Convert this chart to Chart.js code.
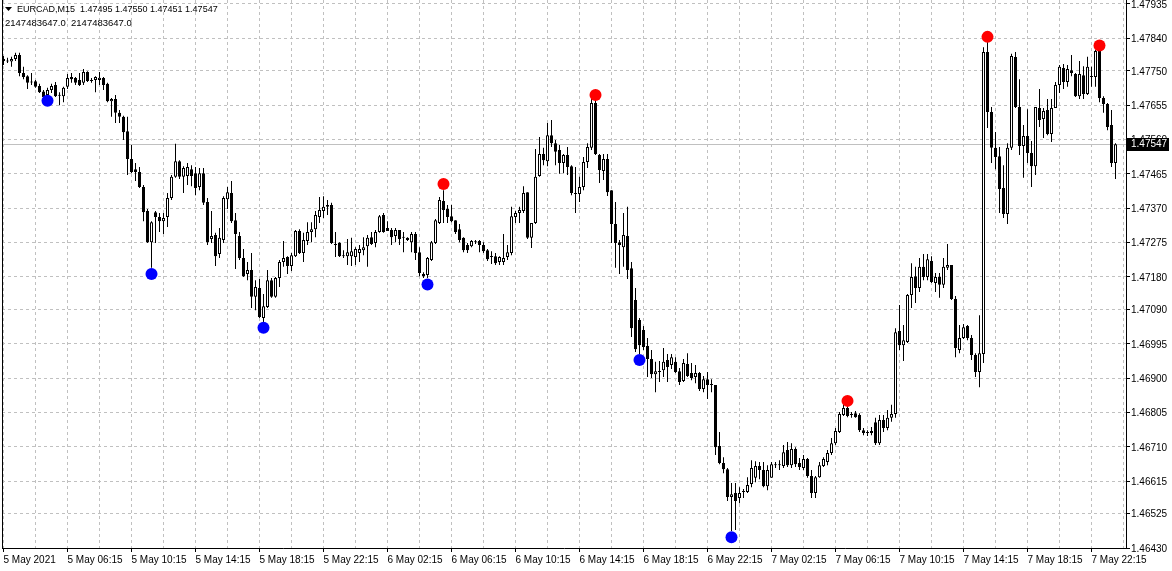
<!DOCTYPE html>
<html>
<head>
<meta charset="utf-8">
<script src="https://cdn.jsdelivr.net/npm/chart.js@4.4.1/dist/chart.umd.min.js"></script>
<style>
  html, body { margin: 0; padding: 0; background: #fff; }
  canvas { display: block; }
</style>
</head>
<body>
<canvas id="myChart" width="1172" height="571"></canvas>
<script>
// EURCAD M15 candles, one entry per bar (bar 0 = 5 May 02:15)
var opens = [
1.47783,1.47777,1.47776,1.47783,1.47794,1.47744,1.47735,1.47719,1.47721,1.47708,1.47693,1.47683,1.47697,1.47711,1.47681,1.47680,
1.47706,1.47733,1.47730,1.47725,1.47717,1.47747,1.47722,1.47725,1.47725,1.47730,1.47714,1.47666,1.47672,1.47634,1.47623,1.47583,
1.47506,1.47478,1.47470,1.47429,1.47362,1.47276,1.47359,1.47346,1.47334,1.47346,1.47398,1.47457,1.47500,1.47457,1.47459,1.47478,
1.47467,1.47429,1.47467,1.47387,1.47285,1.47296,1.47243,1.47282,1.47395,1.47412,1.47337,1.47293,1.47232,1.47188,1.47199,1.47125,
1.47149,1.47066,1.47097,1.47171,1.47125,1.47177,1.47221,1.47235,1.47210,1.47237,1.47307,1.47246,1.47279,1.47304,1.47312,1.47346,
1.47362,1.47374,1.47379,1.47271,1.47274,1.47237,1.47237,1.47237,1.47235,1.47246,1.47254,1.47265,1.47290,1.47274,1.47304,1.47351,
1.47315,1.47310,1.47293,1.47310,1.47290,1.47288,1.47276,1.47299,1.47248,1.47188,1.47185,1.47227,1.47274,1.47329,1.47390,1.47368,
1.47348,1.47337,1.47312,1.47288,1.47268,1.47265,1.47276,1.47279,1.47268,1.47254,1.47237,1.47237,1.47221,1.47221,1.47235,1.47246,
1.47346,1.47357,1.47362,1.47414,1.47288,1.47329,1.47459,1.47520,1.47500,1.47572,1.47550,1.47531,1.47495,1.47517,1.47486,1.47409,
1.47409,1.47429,1.47498,1.47537,1.47661,1.47517,1.47473,1.47506,1.47420,1.47326,1.47276,1.47262,1.47293,1.47204,1.47116,1.47061,
1.47033,1.46989,1.46953,1.46911,1.46917,1.46922,1.46950,1.46936,1.46945,1.46919,1.46892,1.46939,1.46914,1.46903,1.46914,1.46870,
1.46897,1.46881,1.46881,1.46712,1.46665,1.46648,1.46571,1.46582,1.46568,1.46585,1.46585,1.46607,1.46624,1.46657,1.46646,1.46601,
1.46624,1.46659,1.46659,1.46657,1.46701,1.46659,1.46704,1.46665,1.46651,1.46676,1.46629,1.46582,1.46626,1.46657,1.46668,1.46693,
1.46720,1.46751,1.46798,1.46817,1.46798,1.46803,1.46798,1.46756,1.46748,1.46748,1.46778,1.46720,1.46784,1.46762,1.46790,1.46801,
1.47030,1.46991,1.47000,1.47130,1.47182,1.47149,1.47208,1.47180,1.47224,1.47163,1.47180,1.47158,1.47205,1.47213,1.47119,1.46978,
1.47011,1.47044,1.47011,1.46964,1.46917,1.46967,1.47802,1.47636,1.47537,1.47514,1.47426,1.47354,1.47537,1.47788,1.47650,1.47542,
1.47570,1.47523,1.47486,1.47647,1.47617,1.47642,1.47575,1.47647,1.47711,1.47758,1.47719,1.47752,1.47741,1.47680,1.47738,1.47686,
1.47733,1.47733,1.47805,1.47675,1.47658,1.47600,1.47495];
var highs = [
1.47791,1.47786,1.47789,1.47800,1.47800,1.47761,1.47738,1.47744,1.47725,1.47714,1.47697,1.47703,1.47714,1.47719,1.47691,1.47706,
1.47741,1.47744,1.47733,1.47744,1.47755,1.47749,1.47730,1.47735,1.47747,1.47733,1.47717,1.47675,1.47683,1.47642,1.47626,1.47623,
1.47545,1.47495,1.47484,1.47434,1.47368,1.47334,1.47362,1.47357,1.47357,1.47412,1.47462,1.47548,1.47503,1.47486,1.47495,1.47489,
1.47484,1.47481,1.47481,1.47398,1.47362,1.47302,1.47315,1.47403,1.47429,1.47445,1.47357,1.47304,1.47257,1.47221,1.47246,1.47171,
1.47174,1.47133,1.47199,1.47177,1.47180,1.47227,1.47279,1.47237,1.47246,1.47310,1.47312,1.47302,1.47331,1.47331,1.47362,1.47401,
1.47403,1.47393,1.47385,1.47304,1.47276,1.47254,1.47285,1.47288,1.47262,1.47268,1.47290,1.47296,1.47304,1.47310,1.47351,1.47357,
1.47334,1.47315,1.47315,1.47310,1.47304,1.47290,1.47304,1.47304,1.47262,1.47193,1.47235,1.47279,1.47340,1.47401,1.47420,1.47379,
1.47379,1.47337,1.47326,1.47290,1.47274,1.47282,1.47282,1.47282,1.47276,1.47257,1.47251,1.47246,1.47237,1.47299,1.47268,1.47374,
1.47362,1.47374,1.47431,1.47414,1.47329,1.47534,1.47567,1.47537,1.47606,1.47614,1.47559,1.47545,1.47520,1.47539,1.47489,1.47484,
1.47457,1.47512,1.47550,1.47675,1.47669,1.47520,1.47520,1.47520,1.47420,1.47387,1.47282,1.47357,1.47374,1.47221,1.47149,1.47066,
1.47044,1.47011,1.46978,1.46945,1.46947,1.46983,1.46967,1.46967,1.46958,1.46928,1.46953,1.46969,1.46942,1.46936,1.46917,1.46906,
1.46917,1.46897,1.46881,1.46751,1.46681,1.46651,1.46610,1.46610,1.46598,1.46593,1.46626,1.46673,1.46670,1.46668,1.46668,1.46659,
1.46668,1.46668,1.46673,1.46715,1.46723,1.46720,1.46709,1.46679,1.46687,1.46679,1.46646,1.46629,1.46668,1.46681,1.46701,1.46734,
1.46762,1.46806,1.46828,1.46823,1.46806,1.46809,1.46803,1.46762,1.46756,1.46765,1.46790,1.46798,1.46798,1.46812,1.46826,1.47038,
1.47102,1.47047,1.47133,1.47218,1.47208,1.47232,1.47243,1.47243,1.47237,1.47191,1.47191,1.47232,1.47271,1.47213,1.47127,1.47047,
1.47050,1.47047,1.47019,1.46969,1.47074,1.47815,1.47830,1.47650,1.47581,1.47539,1.47489,1.47550,1.47797,1.47802,1.47727,1.47600,
1.47644,1.47556,1.47650,1.47700,1.47647,1.47672,1.47672,1.47719,1.47766,1.47769,1.47766,1.47794,1.47744,1.47777,1.47763,1.47789,
1.47761,1.47808,1.47808,1.47680,1.47661,1.47642,1.47550];
var lows = [
1.47766,1.47772,1.47761,1.47777,1.47735,1.47727,1.47700,1.47711,1.47703,1.47689,1.47675,1.47680,1.47689,1.47678,1.47655,1.47663,
1.47700,1.47717,1.47711,1.47708,1.47711,1.47719,1.47717,1.47691,1.47711,1.47697,1.47663,1.47623,1.47606,1.47606,1.47559,1.47462,
1.47467,1.47445,1.47426,1.47334,1.47274,1.47205,1.47274,1.47304,1.47299,1.47318,1.47393,1.47454,1.47451,1.47412,1.47434,1.47431,
1.47406,1.47420,1.47379,1.47268,1.47274,1.47210,1.47232,1.47274,1.47368,1.47329,1.47202,1.47227,1.47180,1.47171,1.47094,1.47088,
1.47066,1.47055,1.47094,1.47122,1.47122,1.47152,1.47208,1.47188,1.47196,1.47235,1.47243,1.47221,1.47268,1.47276,1.47290,1.47329,
1.47343,1.47351,1.47271,1.47235,1.47235,1.47232,1.47213,1.47210,1.47213,1.47221,1.47240,1.47208,1.47268,1.47262,1.47302,1.47302,
1.47307,1.47268,1.47276,1.47268,1.47248,1.47279,1.47248,1.47227,1.47182,1.47177,1.47177,1.47224,1.47271,1.47326,1.47329,1.47329,
1.47331,1.47299,1.47276,1.47248,1.47246,1.47262,1.47271,1.47248,1.47246,1.47224,1.47216,1.47213,1.47213,1.47213,1.47227,1.47240,
1.47329,1.47329,1.47357,1.47285,1.47260,1.47326,1.47457,1.47489,1.47486,1.47539,1.47489,1.47465,1.47467,1.47462,1.47406,1.47357,
1.47387,1.47420,1.47481,1.47531,1.47517,1.47440,1.47448,1.47404,1.47274,1.47205,1.47188,1.47208,1.47174,1.47014,1.46972,1.46966,
1.46978,1.46903,1.46900,1.46861,1.46889,1.46903,1.46889,1.46925,1.46914,1.46881,1.46889,1.46903,1.46894,1.46886,1.46864,1.46861,
1.46842,1.46861,1.46687,1.46662,1.46637,1.46560,1.46477,1.46480,1.46554,1.46568,1.46582,1.46598,1.46612,1.46620,1.46598,1.46590,
1.46624,1.46651,1.46646,1.46651,1.46654,1.46651,1.46654,1.46646,1.46646,1.46624,1.46568,1.46568,1.46624,1.46654,1.46659,1.46687,
1.46715,1.46748,1.46795,1.46792,1.46790,1.46790,1.46751,1.46742,1.46740,1.46742,1.46715,1.46715,1.46751,1.46756,1.46779,1.46790,
1.46978,1.46947,1.46997,1.47094,1.47108,1.47138,1.47171,1.47171,1.47163,1.47138,1.47122,1.47149,1.47199,1.47116,1.46958,1.46969,
1.47008,1.47005,1.46950,1.46903,1.46875,1.46942,1.47592,1.47495,1.47478,1.47357,1.47343,1.47326,1.47531,1.47647,1.47517,1.47454,
1.47495,1.47429,1.47462,1.47595,1.47564,1.47572,1.47553,1.47647,1.47689,1.47700,1.47706,1.47735,1.47678,1.47672,1.47672,1.47683,
1.47706,1.47706,1.47663,1.47634,1.47586,1.47484,1.47451];
var closes = [
1.47777,1.47776,1.47783,1.47794,1.47744,1.47733,1.47717,1.47718,1.47706,1.47691,1.47678,1.47697,1.47708,1.47680,1.47683,1.47703,
1.47730,1.47727,1.47717,1.47711,1.47747,1.47722,1.47725,1.47733,1.47731,1.47711,1.47666,1.47672,1.47634,1.47623,1.47580,1.47506,
1.47470,1.47470,1.47429,1.47359,1.47276,1.47331,1.47346,1.47334,1.47343,1.47398,1.47457,1.47500,1.47457,1.47481,1.47484,1.47459,
1.47426,1.47467,1.47385,1.47276,1.47293,1.47237,1.47288,1.47398,1.47414,1.47334,1.47299,1.47232,1.47182,1.47199,1.47125,1.47152,
1.47069,1.47099,1.47171,1.47125,1.47177,1.47221,1.47232,1.47210,1.47240,1.47307,1.47246,1.47282,1.47304,1.47312,1.47351,1.47365,
1.47374,1.47379,1.47274,1.47268,1.47237,1.47237,1.47248,1.47251,1.47257,1.47257,1.47262,1.47288,1.47271,1.47304,1.47348,1.47304,
1.47307,1.47290,1.47310,1.47285,1.47288,1.47282,1.47299,1.47246,1.47191,1.47182,1.47232,1.47276,1.47337,1.47393,1.47365,1.47346,
1.47334,1.47304,1.47282,1.47254,1.47254,1.47279,1.47276,1.47268,1.47251,1.47229,1.47235,1.47218,1.47235,1.47232,1.47248,1.47348,
1.47357,1.47365,1.47412,1.47288,1.47329,1.47457,1.47520,1.47503,1.47572,1.47550,1.47526,1.47495,1.47517,1.47484,1.47412,1.47409,
1.47429,1.47498,1.47539,1.47661,1.47520,1.47476,1.47506,1.47414,1.47326,1.47274,1.47268,1.47296,1.47199,1.47038,1.46980,1.46991,
1.46986,1.46953,1.46911,1.46919,1.46919,1.46945,1.46931,1.46958,1.46917,1.46889,1.46942,1.46906,1.46900,1.46914,1.46870,1.46897,
1.46881,1.46881,1.46709,1.46665,1.46648,1.46571,1.46579,1.46560,1.46582,1.46585,1.46604,1.46651,1.46657,1.46646,1.46601,1.46646,
1.46662,1.46659,1.46659,1.46695,1.46659,1.46704,1.46662,1.46654,1.46676,1.46629,1.46582,1.46626,1.46659,1.46676,1.46693,1.46720,
1.46754,1.46801,1.46817,1.46795,1.46798,1.46792,1.46756,1.46748,1.46748,1.46754,1.46720,1.46784,1.46762,1.46790,1.46801,1.47027,
1.46991,1.47005,1.47130,1.47180,1.47149,1.47208,1.47180,1.47229,1.47166,1.47180,1.47158,1.47208,1.47213,1.47119,1.46983,1.47011,
1.47041,1.47011,1.46964,1.46917,1.46969,1.47802,1.47636,1.47537,1.47512,1.47423,1.47354,1.47537,1.47791,1.47650,1.47542,1.47570,
1.47523,1.47486,1.47650,1.47614,1.47639,1.47575,1.47647,1.47711,1.47761,1.47719,1.47755,1.47744,1.47680,1.47741,1.47686,1.47761,
1.47733,1.47805,1.47675,1.47658,1.47595,1.47495,1.47547];

// fractal markers
var highDotBars = [110, 148, 211, 246, 274];
var highDotPrices = [1.47437, 1.47683, 1.46837, 1.47844, 1.47820];
var lowDotBars = [11, 37, 65, 106, 159, 182];
var lowDotPrices = [1.47667, 1.47188, 1.47039, 1.47159, 1.46950, 1.46460];

var xLabels = ['5 May 2021','5 May 06:15','5 May 10:15','5 May 14:15','5 May 18:15','5 May 22:15',
  '6 May 02:15','6 May 06:15','6 May 10:15','6 May 14:15','6 May 18:15','6 May 22:15',
  '7 May 02:15','7 May 06:15','7 May 10:15','7 May 14:15','7 May 18:15','7 May 22:15'];
var yTickLabels = ['1.46430','1.46525','1.46615','1.46710','1.46805','1.46900','1.46995','1.47090',
  '1.47180','1.47275','1.47370','1.47465','1.47560','1.47655','1.47750','1.47840','1.47935'];

var symbolText = 'EURCAD,M15';
var lastPrice = 1.47547;
var infoLine = '2147483647.0  2147483647.0';

var wickData = [], bodyData = [], bodyColors = [];
for (let i = 0; i < opens.length; i++) {
    wickData.push({x: i, y: [lows[i], highs[i]]});
    bodyData.push({x: i, y: [opens[i], closes[i]]});
    bodyColors.push(closes[i] >= opens[i] ? '#ffffff' : '#000000');
}
var highDots = highDotBars.map((b, k) => ({x: b, y: highDotPrices[k]}));
var lowDots = lowDotBars.map((b, k) => ({x: b, y: lowDotPrices[k]}));

var FONT = '"Liberation Sans", Arial, sans-serif';
Chart.defaults.font.family = FONT;
Chart.defaults.font.size = 10;
Chart.defaults.color = '#000';

var mtPlugin = {
    id: 'mtDecor',
    beforeDatasetsDraw: function(chart) {
        var ctx = chart.ctx, a = chart.chartArea;
        var y = Math.round(chart.scales.y.getPixelForValue(lastPrice)) + 0.5;
        ctx.save();
        ctx.strokeStyle = '#c0c0c0';
        ctx.lineWidth = 1;
        ctx.beginPath();
        ctx.moveTo(a.left, y);
        ctx.lineTo(a.right, y);
        ctx.stroke();
        ctx.restore();
    },
    afterDraw: function(chart) {
        var ctx = chart.ctx, a = chart.chartArea;
        ctx.save();
        // left frame line
        ctx.strokeStyle = '#000';
        ctx.lineWidth = 1;
        ctx.beginPath();
        ctx.moveTo(a.left + 0.5, a.top);
        ctx.lineTo(a.left + 0.5, a.bottom);
        ctx.stroke();
        // header
        ctx.fillStyle = '#000';
        ctx.beginPath();
        ctx.moveTo(5, 7); ctx.lineTo(12, 7); ctx.lineTo(8.5, 11);
        ctx.closePath();
        ctx.fill();
        ctx.textBaseline = 'middle';
        ctx.textAlign = 'left';
        ctx.font = '9px ' + FONT;
        ctx.fillText(symbolText + '  ' + opens[opens.length - 1].toFixed(5) + ' ' +
            highs[highs.length - 1].toFixed(5) + ' ' + lows[lows.length - 1].toFixed(5) + ' ' +
            closes[closes.length - 1].toFixed(5), 17, 10);
        ctx.font = '9.5px ' + FONT;
        ctx.fillText(infoLine, 5, 23);
        // last price tag
        ctx.font = '10px ' + FONT;
        var y = Math.round(chart.scales.y.getPixelForValue(lastPrice));
        ctx.fillRect(a.right + 1, y - 6, 42, 13);
        ctx.fillStyle = '#fff';
        ctx.fillText(lastPrice.toFixed(5), a.right + 5, y + 0.5);
        ctx.restore();
    }
};

var ctx = document.getElementById('myChart');
var myChart = new Chart(ctx, {
    type: 'bar',
    data: {
        datasets: [
            {
                type: 'line', data: highDots, showLine: false, order: -2,
                pointRadius: 6, pointHoverRadius: 6, pointBorderWidth: 0,
                pointBackgroundColor: '#ff0000', borderColor: '#ff0000'
            },
            {
                type: 'line', data: lowDots, showLine: false, order: -1,
                pointRadius: 6, pointHoverRadius: 6, pointBorderWidth: 0,
                pointBackgroundColor: '#0000ff', borderColor: '#0000ff'
            },
            {
                data: bodyData, order: 0, grouped: false,
                barThickness: 3, minBarLength: 1, inflateAmount: 0,
                backgroundColor: bodyColors, borderColor: '#000',
                borderWidth: 1, borderSkipped: false
            },
            {
                data: wickData, order: 1, grouped: false,
                barThickness: 1, inflateAmount: 0,
                backgroundColor: '#000', borderWidth: 0
            }
        ]
    },
    options: {
        responsive: false,
        animation: false,
        devicePixelRatio: 1,
        layout: {padding: {left: 2, top: 0, right: 0, bottom: 0}, autoPadding: false},
        plugins: {legend: {display: false}, tooltip: {enabled: false}},
        scales: {
            x: {
                type: 'linear',
                min: -0.375, max: 280.625,
                offset: false,
                afterFit: function(s) {
                    s.height = 23;
                    s.paddingLeft = 0; s.paddingRight = 0;
                },
                afterBuildTicks: function(s) {
                    var t = [];
                    for (let v = 0; v <= 280; v += 8) t.push({value: v});
                    s.ticks = t;
                },
                grid: {
                    offset: false, color: '#c0c0c0', lineWidth: 1,
                    tickLength: 4, tickBorderDash: [],
                    tickColor: function(c) { return c.tick && c.tick.value % 16 === 0 ? '#000' : 'rgba(0,0,0,0)'; }
                },
                border: {display: true, color: '#000', width: 1, dash: [3, 3]},
                ticks: {
                    autoSkip: false, maxRotation: 0, align: 'start', padding: 2,
                    callback: function(v) { return v % 16 === 0 ? xLabels[v / 16] : ''; }
                }
            },
            y: {
                type: 'linear',
                position: 'right',
                min: 1.46430, max: 1.47946,
                beginAtZero: false,
                bounds: 'data',
                afterFit: function(s) {
                    s.width = 46;
                    s.paddingTop = 0; s.paddingBottom = 0;
                },
                afterBuildTicks: function(s) {
                    s.ticks = yTickLabels.map(function(l) { return {value: parseFloat(l)}; });
                },
                grid: {color: '#c0c0c0', lineWidth: 1, tickLength: 4, tickColor: '#000', tickBorderDash: []},
                border: {display: true, color: '#000', width: 1, dash: [3, 3]},
                ticks: {
                    padding: 1, labelOffset: 1,
                    callback: function(v, idx) { return yTickLabels[idx]; }
                }
            }
        }
    },
    plugins: [mtPlugin]
});
</script>
</body>
</html>
